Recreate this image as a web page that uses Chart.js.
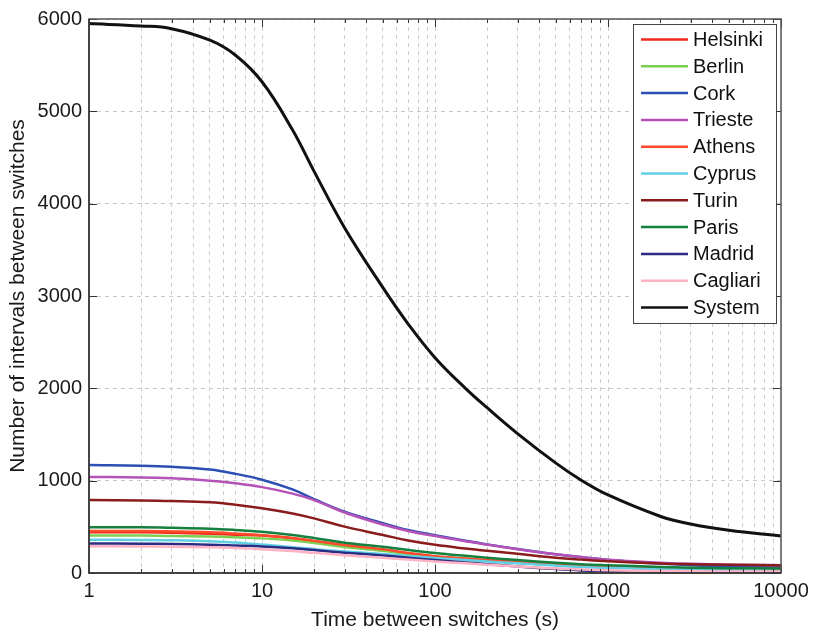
<!DOCTYPE html>
<html>
<head>
    <meta charset="utf-8" />
    <title>Intervals between switches</title>
<script src="https://cdn.jsdelivr.net/npm/chart.js@4"></script>
<style>
    body{
        margin: 0;
        background: #fff;
    }
    .chartContainer{
        width: 815px;
        height: 633px;
    }
</style>
</head>

<body>
    <div class="chartContainer">
        <canvas id="myChart"></canvas>
    </div>
</body>

<script>
// time between switches (s), shared by every curve
var times = [1, 2, 3, 5, 7, 10, 15, 20, 30, 50, 70, 100, 150, 200, 300, 500, 700, 1000, 2000, 3000, 5000, 10000];

var helsinki = [440, 440, 435, 425, 415, 405, 375, 345, 300, 250, 212, 180, 152, 135, 115, 90, 76, 66, 52, 46, 42, 40];
var berlin   = [405, 405, 400, 395, 387, 375, 352, 325, 282, 240, 206, 176, 150, 132, 110, 86, 73, 63, 50, 45, 42, 40];
var cork     = [1170, 1162, 1150, 1120, 1075, 1010, 905, 800, 665, 540, 465, 410, 350, 310, 260, 202, 172, 142, 102, 85, 72, 62];
var trieste  = [1040, 1035, 1025, 1000, 972, 930, 860, 790, 655, 525, 455, 400, 345, 307, 258, 203, 173, 144, 112, 99, 90, 85];
var athens   = [455, 455, 450, 440, 427, 410, 380, 348, 302, 256, 217, 182, 156, 140, 118, 93, 79, 69, 55, 50, 47, 45];
var cyprus   = [360, 358, 355, 345, 330, 308, 280, 258, 232, 205, 185, 162, 140, 125, 105, 80, 66, 56, 41, 35, 30, 28];
var turin    = [790, 786, 780, 765, 740, 702, 645, 592, 502, 412, 352, 305, 265, 240, 208, 166, 145, 126, 102, 95, 90, 85];
var paris    = [495, 495, 490, 480, 466, 446, 412, 380, 328, 285, 250, 217, 186, 166, 140, 111, 96, 85, 66, 58, 52, 50];
var madrid   = [320, 318, 315, 307, 298, 287, 267, 248, 220, 190, 165, 140, 115, 96, 70, 42, 27, 17, 9, 6, 5, 5];
var cagliari = [290, 288, 285, 278, 270, 257, 237, 218, 192, 165, 145, 125, 105, 90, 71, 50, 38, 29, 21, 18, 16, 15];
var system   = [5950, 5925, 5895, 5770, 5610, 5320, 4800, 4350, 3740, 3090, 2696, 2332, 2000, 1790, 1510, 1190, 1005, 845, 615, 530, 462, 400];

var seriesNames  = ['Helsinki', 'Berlin', 'Cork', 'Trieste', 'Athens', 'Cyprus', 'Turin', 'Paris', 'Madrid', 'Cagliari', 'System'];
var seriesValues = [helsinki, berlin, cork, trieste, athens, cyprus, turin, paris, madrid, cagliari, system];
var seriesColors = ['#f22a1c', '#7ccf52', '#2d4fb5', '#b452b8', '#ff4b2b', '#62d0e4', '#8a1c1c', '#16803f', '#2b2d84', '#ffb3c4', '#111111'];

var yTicks = [0, 1000, 2000, 3000, 4000, 5000, 6000];
var xMajor = [1, 10, 100, 1000, 10000];

var FONT = '"Liberation Sans", Arial, sans-serif';

function toPoints(vals) {
    return vals.map(function (v, i) { return {x: times[i], y: v}; });
}

var datasets = [];
for (var i = seriesNames.length - 1; i >= 0; i--) {
    datasets.push({
        label: seriesNames[i],
        data: toPoints(seriesValues[i]),
        borderColor: seriesColors[i],
        borderWidth: seriesNames[i] == 'System' ? 3 : 2.5,
        pointRadius: 0,
        tension: 0.4,
        fill: false
    });
}

// axes box, inward ticks and the boxed legend like the matlab figure
var frameAndLegend = {
    id: 'frameAndLegend',
    afterDraw: function (chart) {
        var c = chart.ctx;
        var a = chart.chartArea;
        var xs = chart.scales.x, ys = chart.scales.y;
        c.save();
        c.strokeStyle = '#333';
        c.lineWidth = 1;
        // inward ticks
        xs.ticks.forEach(function (t) {
            var px = Math.round(xs.getPixelForValue(t.value)) + 0.5;
            var len = xMajor.indexOf(t.value) >= 0 ? 8 : 4;
            c.beginPath();
            c.moveTo(px, a.bottom); c.lineTo(px, a.bottom - len);
            c.moveTo(px, a.top); c.lineTo(px, a.top + len);
            c.stroke();
        });
        yTicks.forEach(function (v) {
            var py = Math.round(ys.getPixelForValue(v)) + 0.5;
            c.beginPath();
            c.moveTo(a.left, py); c.lineTo(a.left + 8, py);
            c.moveTo(a.right, py); c.lineTo(a.right - 8, py);
            c.stroke();
        });
        c.lineWidth = 1.5;
        c.strokeStyle = '#555';
        c.strokeRect(a.left, a.top, a.right - a.left, a.bottom - a.top);
        c.strokeStyle = '#333';
        c.beginPath();
        c.moveTo(a.left, a.top); c.lineTo(a.left, a.bottom); c.lineTo(a.right, a.bottom);
        c.stroke();

        // legend
        var bx = 633, by = 24, bw = 143, bh = 299, row = 26.8;
        c.fillStyle = '#fff';
        c.fillRect(bx, by, bw, bh);
        c.lineWidth = 1;
        c.strokeStyle = '#444';
        c.strokeRect(bx + 0.5, by + 0.5, bw, bh);
        c.font = '20px ' + FONT;
        c.textBaseline = 'middle';
        c.textAlign = 'left';
        for (var k = 0; k < seriesNames.length; k++) {
            var cy = by + 15.5 + row * k;
            c.strokeStyle = seriesColors[k];
            c.lineWidth = 2.5;
            c.beginPath();
            c.moveTo(641, cy); c.lineTo(688, cy);
            c.stroke();
            c.fillStyle = '#111';
            c.fillText(seriesNames[k], 693, cy + 1);
        }
        c.restore();
    }
};

var ctx = document.getElementById('myChart').getContext('2d');
var chart = new Chart(ctx, {
    type: 'line',
    data: { datasets: datasets },
    options: {
        responsive: true,
        maintainAspectRatio: false,
        animation: false,
        layout: { padding: { top: 17, right: 34, left: 0, bottom: 0 } },
        plugins: {
            legend: { display: false },
            tooltip: { enabled: false }
        },
        scales: {
            x: {
                type: 'logarithmic',
                min: 1,
                max: 10000,
                afterBuildTicks: function (scale) {
                    var t = [];
                    for (var d = 1; d < 10000; d *= 10) {
                        for (var m = 1; m < 10; m++) t.push({value: m * d});
                    }
                    t.push({value: 10000});
                    scale.ticks = t;
                },
                afterFit: function (scale) {
                    scale.height = 60;
                    scale.paddingLeft = 0;
                    scale.paddingRight = 0;
                },
                ticks: {
                    autoSkip: false,
                    maxRotation: 0,
                    padding: 6,
                    color: '#1a1a1a',
                    font: { family: FONT, size: 20 },
                    callback: function (v) {
                        return xMajor.indexOf(v) >= 0 ? String(v) : '';
                    }
                },
                grid: {
                    color: '#cbcbcb',
                    lineWidth: 1,
                    drawTicks: false
                },
                border: { display: false, dash: [4, 4] },
                title: {
                    display: true,
                    text: 'Time between switches (s)',
                    color: '#1a1a1a',
                    font: { family: FONT, size: 21 },
                    padding: { top: 8, bottom: 0 }
                }
            },
            y: {
                min: 0,
                max: 6000,
                afterBuildTicks: function (scale) {
                    scale.ticks = yTicks.map(function (v) { return {value: v}; });
                },
                afterFit: function (scale) {
                    scale.width = 89;
                },
                ticks: {
                    padding: 7,
                    color: '#1a1a1a',
                    font: { family: FONT, size: 20 },
                    callback: function (v) { return String(v); }
                },
                grid: {
                    color: '#cbcbcb',
                    lineWidth: 1,
                    drawTicks: false
                },
                border: { display: false, dash: [4, 4] },
                title: {
                    display: true,
                    text: 'Number of intervals between switches',
                    color: '#1a1a1a',
                    font: { family: FONT, size: 21 },
                    padding: { top: 6, bottom: 0 }
                }
            }
        }
    },
    plugins: [frameAndLegend]
});
</script>
</html>
